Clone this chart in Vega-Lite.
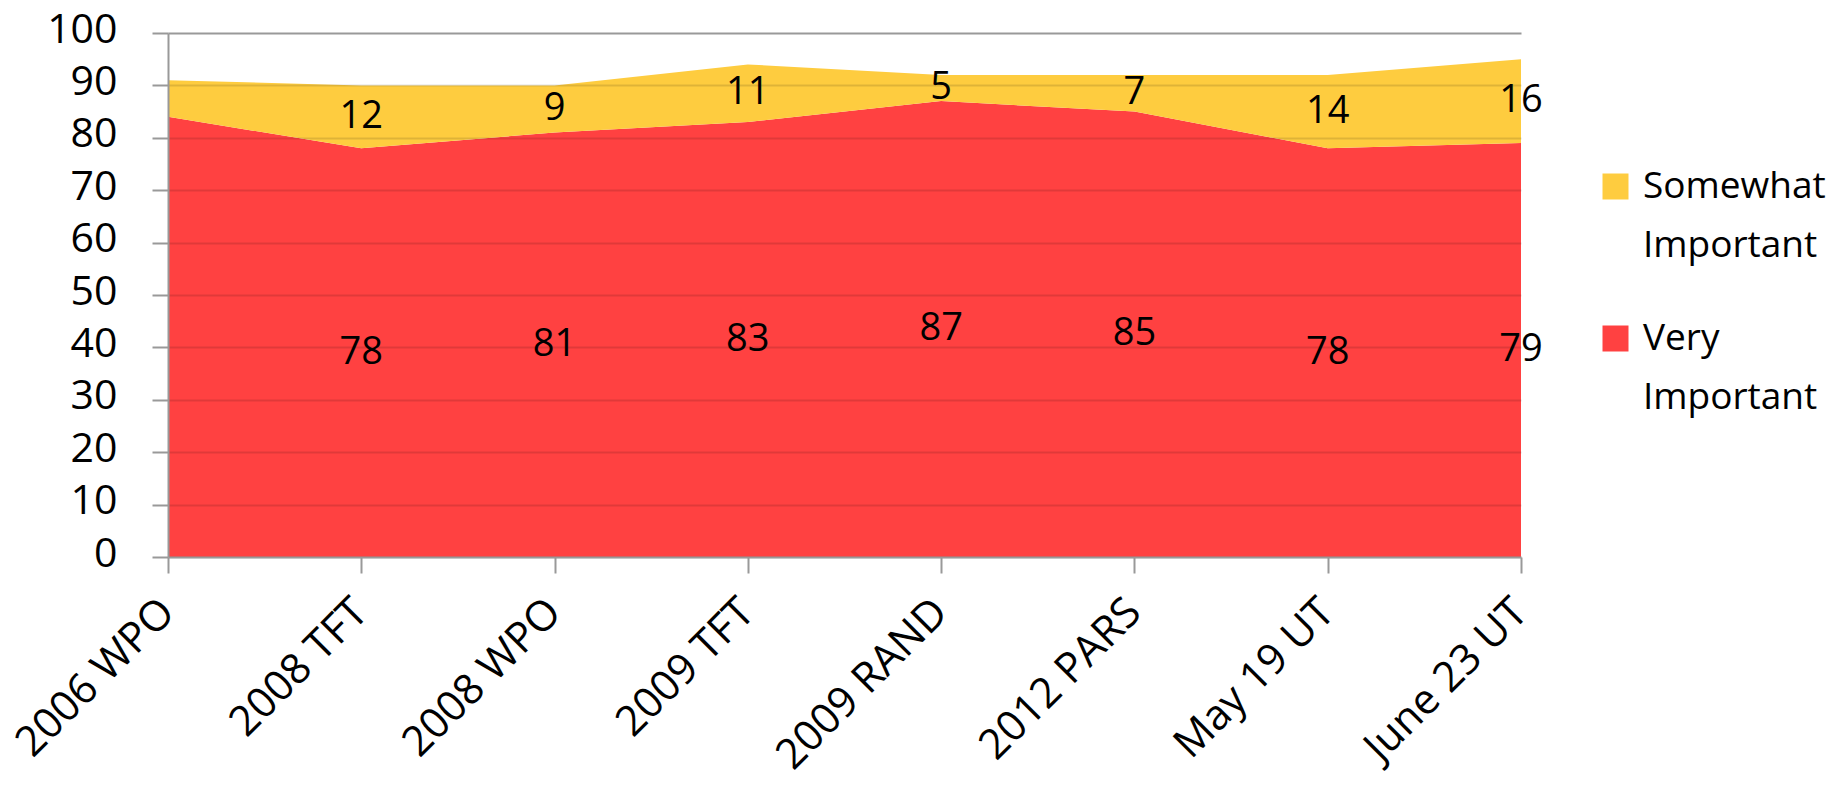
{
  "$schema": "https://vega.github.io/schema/vega-lite/v6.json",
  "width": 1353,
  "height": 524,
  "autosize": "none",
  "padding": {"left": 168, "top": 33, "right": 326, "bottom": 235},
  "background": "white",
  "config": {
    "view": {"stroke": null},
    "style": {"guide-label": {"lineHeight": 59}}
  },
  "data": {
    "values": [
      {"survey": "2006 WPO", "category": "Very Important", "value": 84, "ord": 0},
      {"survey": "2006 WPO", "category": "Somewhat Important", "value": 7, "ord": 1},
      {"survey": "2008 TFT", "category": "Very Important", "value": 78, "ord": 0},
      {"survey": "2008 TFT", "category": "Somewhat Important", "value": 12, "ord": 1},
      {"survey": "2008 WPO", "category": "Very Important", "value": 81, "ord": 0},
      {"survey": "2008 WPO", "category": "Somewhat Important", "value": 9, "ord": 1},
      {"survey": "2009 TFT", "category": "Very Important", "value": 83, "ord": 0},
      {"survey": "2009 TFT", "category": "Somewhat Important", "value": 11, "ord": 1},
      {"survey": "2009 RAND", "category": "Very Important", "value": 87, "ord": 0},
      {"survey": "2009 RAND", "category": "Somewhat Important", "value": 5, "ord": 1},
      {"survey": "2012 PARS", "category": "Very Important", "value": 85, "ord": 0},
      {"survey": "2012 PARS", "category": "Somewhat Important", "value": 7, "ord": 1},
      {"survey": "May 19 UT", "category": "Very Important", "value": 78, "ord": 0},
      {"survey": "May 19 UT", "category": "Somewhat Important", "value": 14, "ord": 1},
      {"survey": "June 23 UT", "category": "Very Important", "value": 79, "ord": 0},
      {"survey": "June 23 UT", "category": "Somewhat Important", "value": 16, "ord": 1}
    ]
  },
  "encoding": {
    "x": {
      "field": "survey",
      "type": "ordinal",
      "sort": ["2006 WPO", "2008 TFT", "2008 WPO", "2009 TFT", "2009 RAND", "2012 PARS", "May 19 UT", "June 23 UT"],
      "scale": {"type": "point", "padding": 0},
      "axis": {
        "title": null,
        "grid": false,
        "domainColor": "#999999",
        "domainWidth": 2,
        "tickColor": "#999999",
        "tickWidth": 2,
        "tickSize": 16,
        "labelAngle": -45,
        "labelAlign": "right",
        "labelBaseline": "top",
        "labelPadding": 18,
        "labelOffset": -15,
        "labelFont": "Open Sans",
        "labelFontSize": 42,
        "labelLineHeight": 42,
        "labelColor": "black",
        "labelLimit": 400,
        "zindex": 1
      }
    }
  },
  "layer": [
    {
      "mark": {"type": "area", "opacity": 1},
      "encoding": {
        "y": {
          "field": "value",
          "type": "quantitative",
          "stack": "zero",
          "scale": {"domain": [0, 100]},
          "axis": {
            "title": null,
            "values": [0, 10, 20, 30, 40, 50, 60, 70, 80, 90, 100],
            "grid": true,
            "gridColor": {"condition": {"test": "datum.value === 100", "value": "#999999"}, "value": "#000000"},
            "gridOpacity": {"condition": {"test": "datum.value === 100", "value": 1}, "value": 0.12},
            "gridWidth": 2,
            "domainColor": "#999999",
            "domainWidth": 2,
            "tickColor": "#999999",
            "tickWidth": 2,
            "tickSize": 16,
            "labelFont": "Open Sans",
            "labelFontSize": 41,
            "labelLineHeight": 41,
            "labelColor": "black",
            "labelPadding": 35,
            "labelOffset": -3,
            "zindex": 1
          }
        },
        "color": {
          "field": "category",
          "type": "nominal",
          "scale": {"domain": ["Somewhat Important", "Very Important"], "range": ["#FECC3F", "#FF4141"]},
          "legend": {
            "title": null,
            "orient": "none",
            "legendX": 1429,
            "legendY": 135,
            "symbolType": "square",
            "symbolSize": 676,
            "symbolStrokeWidth": 0,
            "symbolOpacity": 1,
            "labelFont": "Open Sans",
            "labelFontSize": 37,
            "labelColor": "black",
            "labelOffset": 9,
            "labelExpr": "split(datum.label, ' ')",
            "rowPadding": 55,
            "labelLimit": 400
          }
        },
        "order": {"field": "ord"}
      }
    },
    {
      "transform": [
        {"filter": "datum.survey !== '2006 WPO'"},
        {"stack": "value", "groupby": ["survey"], "sort": [{"field": "ord", "order": "ascending"}], "as": ["v0", "v1"]},
        {"fold": ["v0", "v1"], "as": ["bound_key", "bound"]}
      ],
      "mark": {"type": "text", "font": "Open Sans", "fontSize": 38, "color": "black", "baseline": "middle"},
      "encoding": {
        "y": {"aggregate": "mean", "field": "bound", "type": "quantitative"},
        "detail": {"field": "category"},
        "text": {"field": "value", "type": "quantitative"}
      }
    }
  ]
}
